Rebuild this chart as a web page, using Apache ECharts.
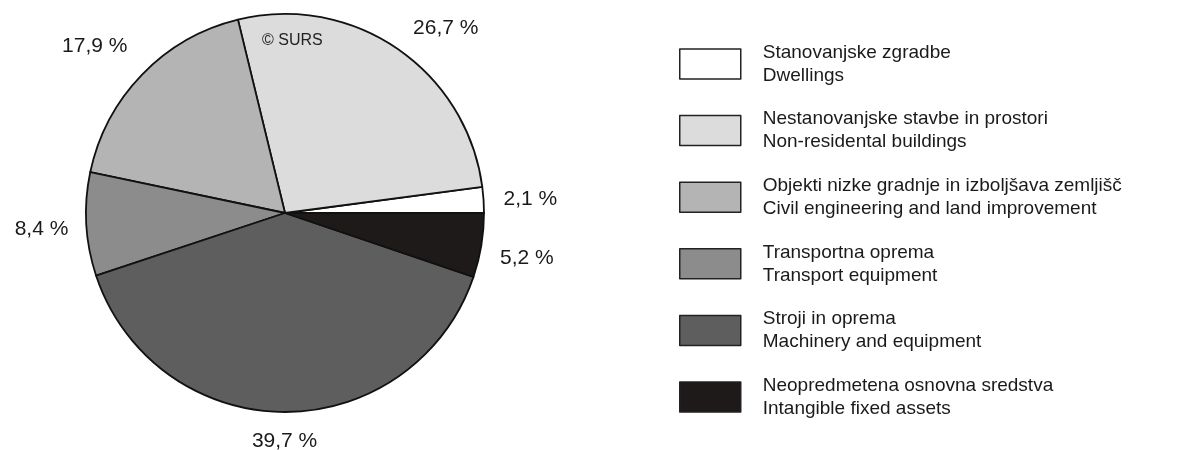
<!DOCTYPE html>
<html>
<head>
<meta charset="utf-8">
<script src="https://cdn.jsdelivr.net/npm/echarts@6/dist/echarts.min.js"></script>
<style>
  html, body { margin: 0; padding: 0; background: #fff; }
  #chart { width: 1193px; height: 450px; }
</style>
</head>
<body>
<div id="chart"></div>
<script>
// kategorije (SI / EN)
const namesSl = [
  'Stanovanjske zgradbe',
  'Nestanovanjske stavbe in prostori',
  'Objekti nizke gradnje in izboljšava zemljišč',
  'Transportna oprema',
  'Stroji in oprema',
  'Neopredmetena osnovna sredstva'
];
const namesEn = [
  'Dwellings',
  'Non-residental buildings',
  'Civil engineering and land improvement',
  'Transport equipment',
  'Machinery and equipment',
  'Intangible fixed assets'
];
// struktura v %
const shares = [2.1, 26.7, 17.9, 8.4, 39.7, 5.2];
const colors = ['#ffffff', '#dcdcdc', '#b4b4b4', '#8c8c8c', '#5e5e5e', '#1e1a1a'];

// ročni zamiki nalepk, kot v izvirniku
const labelShift = [[-6, 1], [1, 1], [4, -10], [8, 3], [33, 3], [-7, 9]];

const font = '"Liberation Sans", Arial, sans-serif';
const chart = echarts.init(document.getElementById('chart'));

const data = shares.map((v, i) => ({
  name: namesSl[i] + '\n' + namesEn[i],
  value: v,
  itemStyle: { color: colors[i] }
}));

const option = {
  animation: false,
  color: colors,
  legend: {
    orient: 'vertical',
    left: 674,
    top: 36,
    itemWidth: 61,
    itemHeight: 30,
    itemGap: 20.6,
    selectedMode: false,
    icon: 'rect',
    itemStyle: { borderColor: '#222', borderWidth: 1.5 },
    textStyle: {
      fontFamily: font,
      fontSize: 19,
      lineHeight: 23,
      color: '#1a1a1a',
      padding: [0, 0, 0, 17]
    }
  },
  graphic: [{
    type: 'text',
    left: 262,
    top: 33,
    z: 100,
    style: { text: '© SURS', font: '16px ' + font, fill: '#222' }
  }],
  series: [{
    type: 'pie',
    center: [285, 213],
    radius: 199,
    startAngle: 0,
    clockwise: false,
    avoidLabelOverlap: false,
    silent: true,
    itemStyle: { borderColor: '#111', borderWidth: 1.8 },
    label: {
      position: 'outside',
      fontFamily: font,
      fontSize: 21,
      color: '#1a1a1a',
      distanceToLabelLine: 0,
      formatter: p => p.value.toFixed(1).replace('.', ',') + ' %'
    },
    labelLine: { show: false, length: 26, length2: 0 },
    labelLayout: p => ({ dx: labelShift[p.dataIndex][0], dy: labelShift[p.dataIndex][1] }),
    data: data
  }]
};

chart.setOption(option);
</script>
</body>
</html>
